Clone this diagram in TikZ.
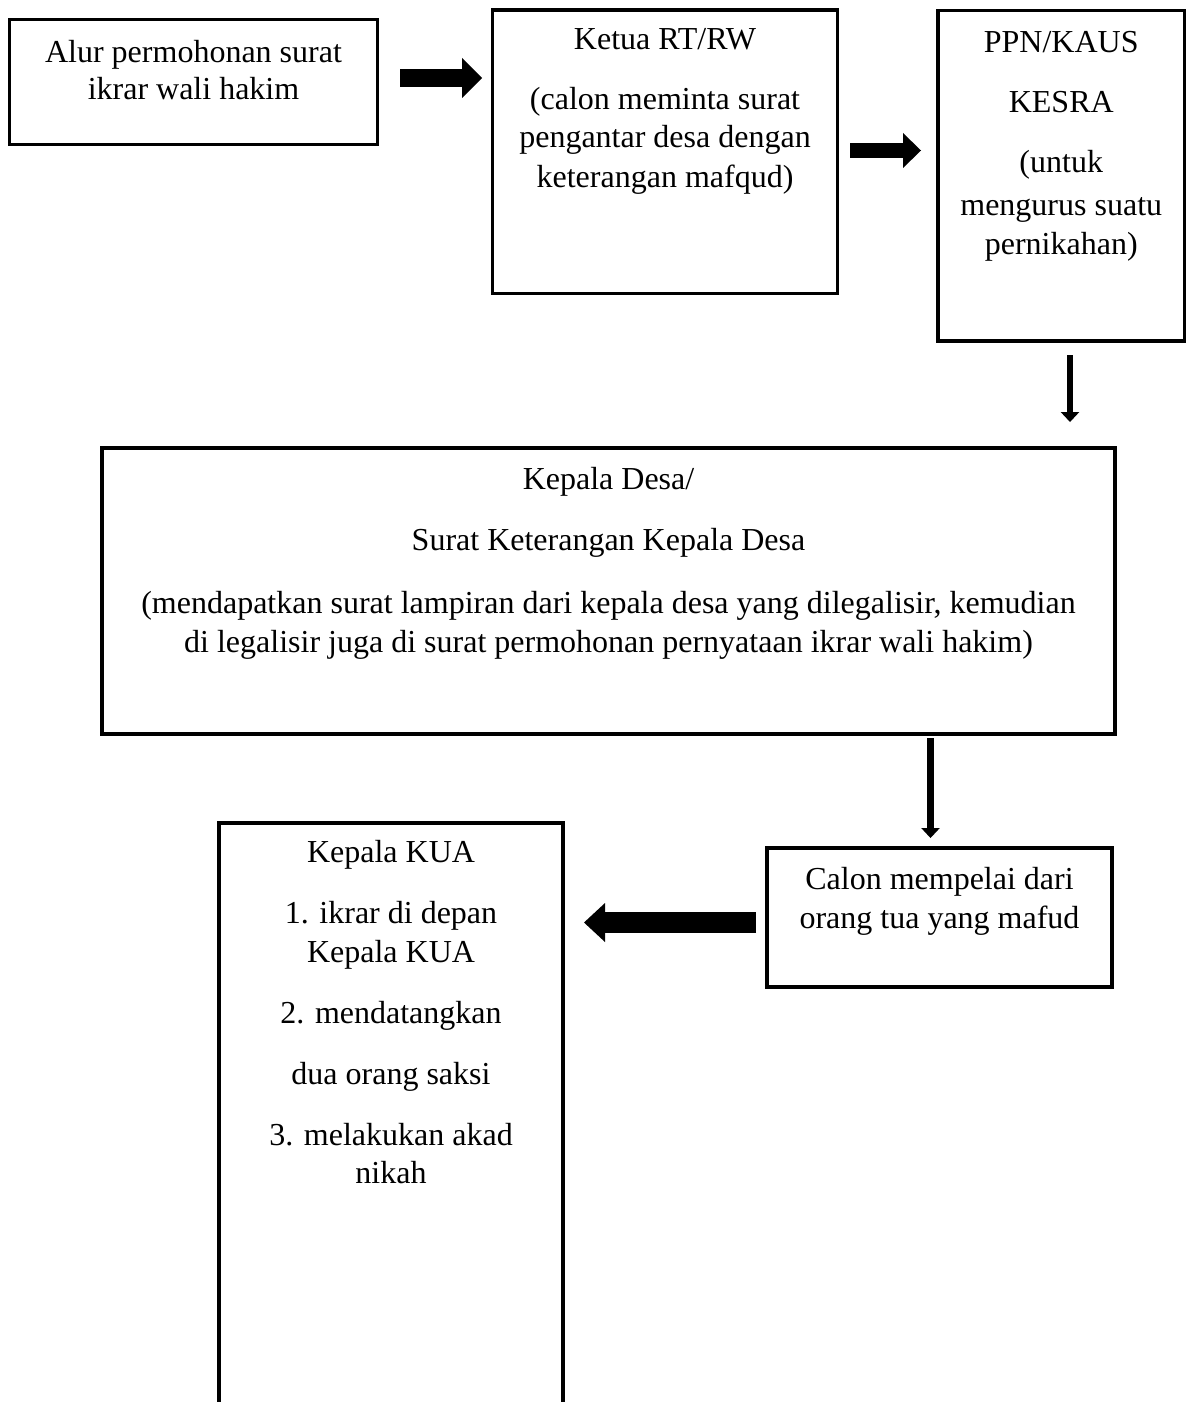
\documentclass[tikz,border=0pt]{standalone}
\usepackage{fontspec}
\setmainfont{Liberation Serif}
\usetikzlibrary{arrows.meta}
\begin{document}
\begin{tikzpicture}[x=0.75pt,y=-0.75pt,
  box/.style={draw=black,line width=2.7pt,rectangle,inner sep=0pt,outer sep=0pt},
  txt/.style={inner sep=0pt,anchor=base,font=\fontsize{24}{28}\selectfont},
  blockarr/.style n args={3}{line width=#1,-{Triangle[width=#2,length=#3,line width=0pt]}}]
\useasboundingbox (0,0) rectangle (1187,1402);
\clip (0,0) rectangle (1187,1402);
\fill[white] (0,0) rectangle (1187,1402);
% boxes
\node[box,minimum width=276pt,minimum height=93.75pt] (b1) at (193.5,82) {};
\node[box,minimum width=258.75pt,minimum height=212.6pt] (b2) at (665,151.75) {};
\node[box,minimum width=184.9pt,minimum height=247.9pt] (b3) at (1061.25,175.75) {};
\node[box,minimum width=759.75pt,minimum height=214.5pt] (b4) at (608.5,591) {};
\node[box,minimum width=258.75pt,minimum height=104.25pt] (b5) at (939.5,917.5) {};
\node[box,minimum width=258pt,minimum height=507.75pt] (b6) at (391,1161.5) {};
% texts
\node[txt] (t11) at (193.5,63) {Alur permohonan surat};
\node[txt] (t12) at (193.5,100) {ikrar wali hakim};
\node[txt] (t21) at (665,50) {Ketua RT/RW};
\node[txt] (t22) at (665,110) {(calon meminta surat};
\node[txt] (t23) at (665,148) {pengantar desa dengan};
\node[txt] (t24) at (665,187) {keterangan mafqud)};
\node[txt] (t31) at (1061.25,53) {PPN/KAUS};
\node[txt] (t32) at (1061.25,113) {KESRA};
\node[txt] (t33) at (1061.25,173) {(untuk};
\node[txt] (t34) at (1061.25,215) {mengurus suatu};
\node[txt] (t35) at (1061.25,254) {pernikahan)};
\node[txt] (t41) at (608.5,489) {Kepala Desa/};
\node[txt] (t42) at (608.5,550) {Surat Keterangan Kepala Desa};
\node[txt] (t43) at (608.5,613) {(mendapatkan surat lampiran dari kepala desa yang dilegalisir, kemudian};
\node[txt] (t44) at (608.5,652) {di legalisir juga di surat permohonan pernyataan ikrar wali hakim)};
\node[txt] (t51) at (939.5,889) {Calon mempelai dari};
\node[txt] (t52) at (939.5,928) {orang tua yang mafud};
\node[txt] (t61) at (391,862) {Kepala KUA};
\node[txt] (t62) at (391,923) {1. ikrar di depan};
\node[txt] (t63) at (391,962) {Kepala KUA};
\node[txt] (t64) at (391,1023) {2. mendatangkan};
\node[txt] (t65) at (391,1084) {dua orang saksi};
\node[txt] (t66) at (391,1145) {3. melakukan akad};
\node[txt] (t67) at (391,1183) {nikah};
% arrow end points
\coordinate (a1s) at (400,78);  \coordinate (a1e) at (482,78);
\coordinate (a2s) at (850,150.5); \coordinate (a2e) at (921,150.5);
\coordinate (a3s) at (1070,355); \coordinate (a3e) at (1070,422);
\coordinate (a4s) at (930.5,738); \coordinate (a4e) at (930.5,838);
\coordinate (a5s) at (756,922.5); \coordinate (a5e) at (584,922.5);
\draw[blockarr={13.5pt}{30pt}{15pt}] (a1s) -- (a1e);
\draw[blockarr={11.25pt}{26.25pt}{13.5pt}] (a2s) -- (a2e);
\draw[blockarr={4.8pt}{14pt}{7.5pt}] (a3s) -- (a3e);
\draw[blockarr={5.4pt}{14pt}{7.5pt}] (a4s) -- (a4e);
\draw[blockarr={15.75pt}{29.25pt}{15.75pt}] (a5s) -- (a5e);
\end{tikzpicture}
\end{document}
